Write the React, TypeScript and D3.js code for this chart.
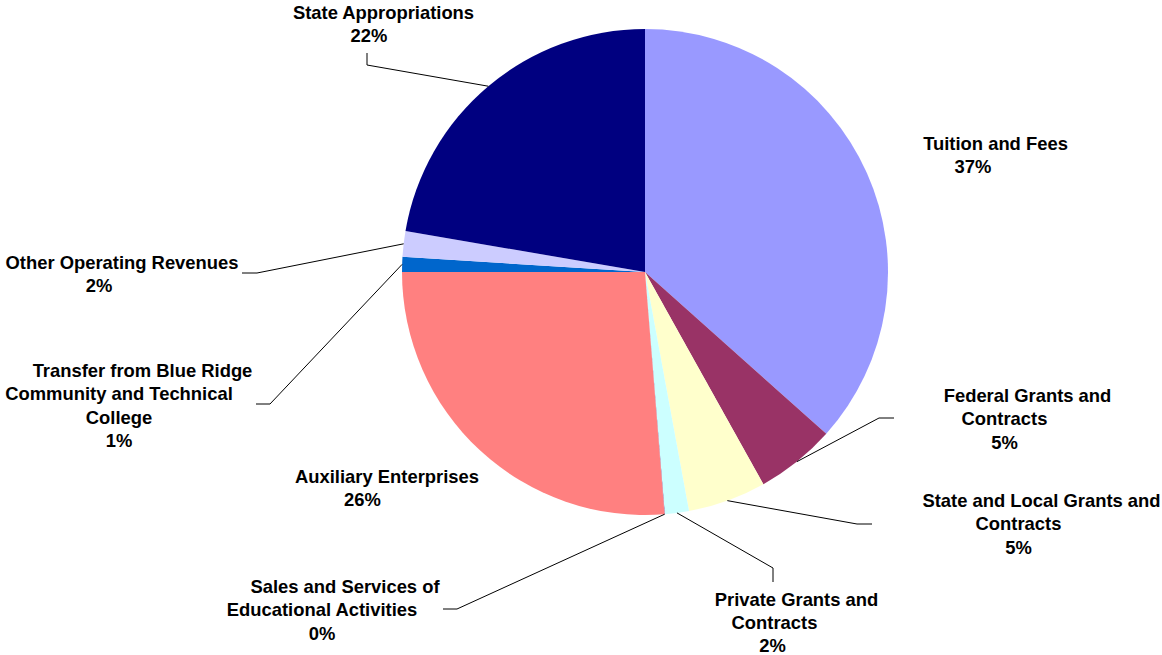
import React from "react";
import * as d3 from "d3";

// ---- data ----
const categories = [
  "Tuition and Fees",
  "Federal Grants and Contracts",
  "State and Local Grants and Contracts",
  "Private Grants and Contracts",
  "Sales and Services of Educational Activities",
  "Auxiliary Enterprises",
  "Transfer from Blue Ridge Community and Technical College",
  "Other Operating Revenues",
  "State Appropriations",
];
const values = [36.6, 5.3, 5.2, 1.6, 0.02, 26.28, 1.0, 1.7, 22.3];
const labelLines = [
  ["Tuition and Fees"],
  ["Federal Grants and", "Contracts"],
  ["State and Local Grants and", "Contracts"],
  ["Private Grants and", "Contracts"],
  ["Sales and Services of", "Educational Activities"],
  ["Auxiliary Enterprises"],
  ["Transfer from Blue Ridge", "Community and Technical", "College"],
  ["Other Operating Revenues"],
  ["State Appropriations"],
];
const colors = ["#9999FF", "#993366", "#FFFFCC", "#CCFFFF", "#660066", "#FF8080", "#0066CC", "#CCCCFF", "#000080"];

// ---- layout (positions of label lines, leader elbows) ----
const W = 1162;
const H = 655;
const CX = 645;
const CY = 272;
const R = 243;
const LINE_H = 23.6;
const FONT = 18.4;

type Layout = { xs: number[]; y0: number; lh?: number; leader: [number, number][] | null };
const layout: Layout[] = [
  { xs: [995.5, 973], y0: 143, leader: null },
  { xs: [1027.5, 1004.5, 1004.5], y0: 395, leader: [[879, 418], [894, 418]] },
  { xs: [1041.5, 1018.5, 1018.5], y0: 500, leader: [[857, 524], [872, 524]] },
  { xs: [796.5, 774.5, 772.5], y0: 599.5, lh: 23, leader: [[773, 568], [773, 582]] },
  { xs: [345, 322, 322], y0: 586, leader: [[457, 609], [443, 609]] },
  { xs: [387, 362.5], y0: 476, leader: null },
  { xs: [142.5, 119, 119, 119], y0: 370, leader: [[270, 404], [256, 404]] },
  { xs: [122, 99], y0: 262, leader: [[257, 273], [242, 273]] },
  { xs: [383.5, 369], y0: 12, leader: [[367, 65], [367, 53]] },
];

export default function App() {
  const pie = d3
    .pie<number>()
    .sort(null)
    .value((d) => d)
    .startAngle(0)
    .endAngle(2 * Math.PI);
  const arcs = pie(values);
  const arc = d3.arc<d3.PieArcDatum<number>>().innerRadius(0).outerRadius(R);
  const line = d3.line();

  return (
    <svg
      width={W}
      height={H}
      style={{ position: "absolute", left: 0, top: 0, background: "#fff" }}
      fontFamily="'Liberation Sans', Arial, sans-serif"
      fontWeight="bold"
      fontSize={FONT}
    >
      <rect width={W} height={H} fill="#fff" />
      <g transform={`translate(${CX},${CY})`}>
        {arcs.map((a, i) => (
          <path key={i} d={arc(a) || ""} fill={colors[i]} />
        ))}
      </g>
      {arcs.map((a, i) => {
        const L = layout[i];
        if (!L.leader) return null;
        const mid = (a.startAngle + a.endAngle) / 2;
        const sx = CX + R * Math.sin(mid);
        const sy = CY - R * Math.cos(mid);
        const pts: [number, number][] = [[sx, sy], ...L.leader];
        return <path key={"l" + i} d={line(pts) || ""} fill="none" stroke="#000" strokeWidth={1} />;
      })}
      {categories.map((c, i) => {
        const L = layout[i];
        const pct = `${Math.round(values[i])}%`;
        const lines = [...labelLines[i], pct];
        const lh = L.lh ?? LINE_H;
        return (
          <g key={"t" + i}>
            {lines.map((t, j) => (
              <text
                key={j}
                x={L.xs[j]}
                y={L.y0 + j * lh + 6.6}
                textAnchor="middle"
                fill="#000"
              >
                {t}
              </text>
            ))}
          </g>
        );
      })}
    </svg>
  );
}
